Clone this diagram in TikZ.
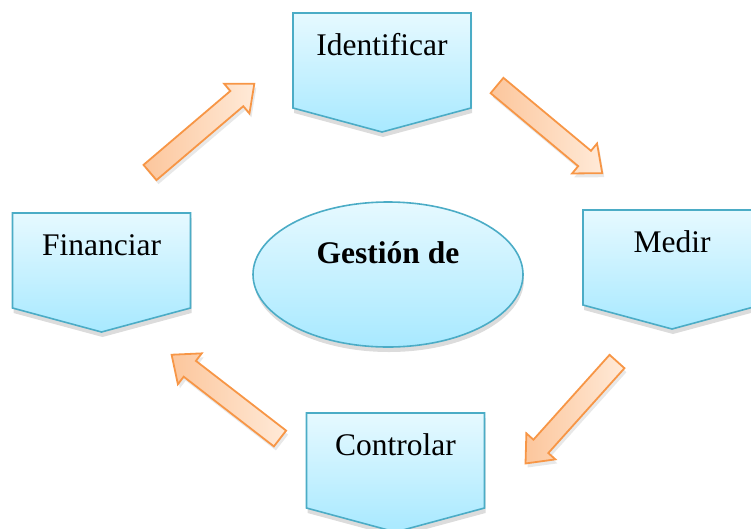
\documentclass[tikz,border=0pt]{standalone}
\usepackage{fontspec}
\setmainfont{Liberation Serif}
\usetikzlibrary{shapes.geometric,shadows}
\definecolor{cajaborde}{RGB}{75,172,198}
\definecolor{cajaarriba}{RGB}{230,249,255}
\definecolor{cajaabajo}{RGB}{168,233,255}
\definecolor{flechaborde}{RGB}{247,150,70}
\definecolor{flechaclaro}{RGB}{255,234,216}
\definecolor{flechaoscuro}{RGB}{252,198,156}
\tikzset{
    every node/.style={inner sep=0pt, anchor=base,
    	font=\fontsize{31.5}{36}\selectfont}
}
\tikzset{
    caja/.style={draw=cajaborde, line width=1.6pt, top color=cajaarriba,
    	bottom color=cajaabajo,
    	drop shadow={opacity=.28, shadow xshift=1pt, shadow yshift=-5pt}}
}
\tikzset{
    flecha/.style={draw=flechaborde, line width=1.8pt, line join=miter,
    	left color=flechaoscuro, right color=flechaclaro,
    	drop shadow={opacity=.18, shadow xshift=2pt, shadow yshift=-4pt}}
}
% caja con punta: nombre, centro x, borde de arriba, texto
\newcommand{\paso}[4]{
  \draw[caja] (#2-89,#3) -- (#2+89,#3) -- (#2+89,#3+95) -- (#2,#3+119)
    -- (#2-89,#3+95) -- cycle;
  \node (#1) at (#2,#3+42) {#4};
}
% flecha: cola x, cola y, angulo
\newcommand{\flecha}[3]{
  \draw[flecha, shift={(#1,#2)}, rotate=#3] (0,-10) -- (114,-10)
    -- (114,-19.5) -- (137,0) -- (114,19.5) -- (114,10) -- (0,10) -- cycle;
}

\begin{document}
\begin{tikzpicture}[x=1pt, y=-1pt]
  \useasboundingbox (0,0) rectangle (751,528);
  \clip (0,0) rectangle (751,528);

  \paso{identificar}{382}{13}{Identificar}
  \paso{financiar}{101.5}{213}{Financiar}
  \paso{medir}{672}{210}{Medir}
  \paso{controlar}{395.5}{413}{Controlar}

  \node[caja, ellipse, anchor=center, minimum width=270pt,
    minimum height=145pt] (ovalo) at (388,274.5) {};
  \node[font=\bfseries\fontsize{31.5}{36}\selectfont] (gestion)
    at (388,263) {Gestión de};

  \flecha{150}{172.5}{40.4}
  \flecha{497}{85.5}{-39.8}
  \flecha{617}{361.5}{228.1}
  \flecha{280}{438.5}{142.3}
\end{tikzpicture}
\end{document}
